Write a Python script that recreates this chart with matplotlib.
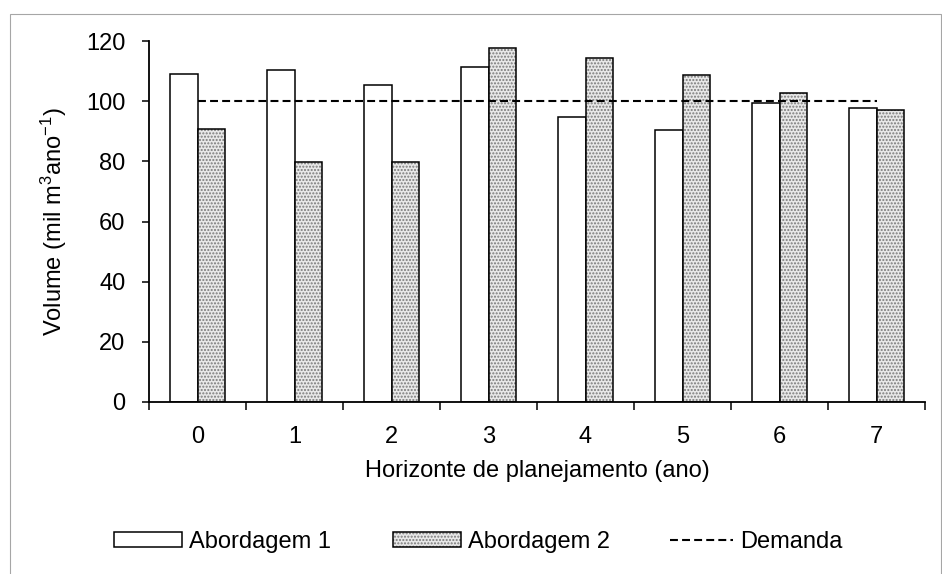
import matplotlib
matplotlib.use("Agg")
import matplotlib.pyplot as plt
from matplotlib.patches import Patch, Rectangle
from matplotlib.lines import Line2D
import numpy as np

plt.rcParams['font.family'] = ['Liberation Sans', 'DejaVu Sans']
plt.rcParams['mathtext.fontset'] = 'custom'
plt.rcParams['mathtext.rm'] = 'Liberation Sans'
plt.rcParams['mathtext.it'] = 'Liberation Sans'

anos = ['0', '1', '2', '3', '4', '5', '6', '7']
abordagem1 = [109.0, 110.2, 105.3, 111.3, 94.9, 90.4, 99.5, 97.7]
abordagem2 = [90.6, 79.8, 79.8, 117.6, 114.4, 108.8, 102.6, 97.0]
demanda = [100, 100, 100, 100, 100, 100, 100, 100]
yticks = [0, 20, 40, 60, 80, 100, 120]

FS = 17
W, H = 942, 574
fig = plt.figure(figsize=(W / 100, H / 100), dpi=100)
ax = fig.add_axes([149 / W, 1 - 402 / H, (925 - 149) / W, (402 - 41) / H])

x = np.arange(len(anos))
bw = 0.285
ax.bar(x - bw / 2, abordagem1, bw, facecolor='white', edgecolor='black', linewidth=1.1, zorder=2)
ax.bar(x + bw / 2, abordagem2, bw, facecolor='#e8e8e8', edgecolor='#7a7a7a', linewidth=0,
       hatch='.....', zorder=2)
ax.bar(x + bw / 2, abordagem2, bw, fill=False, edgecolor='black', linewidth=1.1, zorder=3)
ax.plot(x, demanda, color='black', linewidth=1.5, linestyle=(0, (3.8, 2.0)), zorder=4)

ax.set_xlim(-0.5, len(anos) - 0.5)
ax.set_ylim(0, 120)
ax.set_yticks(yticks)
ax.set_yticklabels([str(v) for v in yticks])
ax.set_xticks(x)
ax.set_xticklabels(anos)
ax.set_xticks(np.arange(len(anos) + 1) - 0.5, minor=True)
ax.tick_params(axis='x', which='major', length=0, pad=17, labelsize=FS)
ax.tick_params(axis='x', which='minor', length=5.5, width=1.1, direction='out')
ax.tick_params(axis='y', which='major', length=5, width=1.1, pad=12, labelsize=FS, direction='out')
for s in ['top', 'right']:
    ax.spines[s].set_visible(False)
for s in ['left', 'bottom']:
    ax.spines[s].set_linewidth(1.3)

ax.set_xlabel('Horizonte de planejamento (ano)', fontsize=FS, labelpad=9)
ax.set_ylabel(r'Volume (mil m$^{3}$ano$^{-1}$)', fontsize=FS, labelpad=12)

h1 = Patch(facecolor='white', edgecolor='black', linewidth=1.1)
h2a = Patch(facecolor='#e8e8e8', edgecolor='#7a7a7a', linewidth=0, hatch='.....')
h2b = Patch(fill=False, edgecolor='black', linewidth=1.1)
h3 = Line2D([], [], color='black', linewidth=1.5, linestyle=(0, (3.8, 2.0)))
entries = [(h1, 'Abordagem 1', 114, 2.88), ((h2a, h2b), 'Abordagem 2', 393, 2.88),
           (h3, 'Demanda', 670, 2.67)]
ly = 1 - 542 / H
for handle, label, xl, hl in entries:
    leg = fig.legend([handle], [label], loc='center left', bbox_to_anchor=(xl / W, ly),
                     frameon=False, fontsize=FS, handlelength=hl, handleheight=0.6,
                     handletextpad=0.3, borderpad=0, borderaxespad=0)

fig.patches.append(Rectangle((9.5 / W, -0.05), (940.5 - 9.5) / W, 1.05 - 13.5 / H,
                             transform=fig.transFigure, fill=False, edgecolor='#a6a6a6',
                             linewidth=0.8))

fig.savefig('out.png', dpi=100)
